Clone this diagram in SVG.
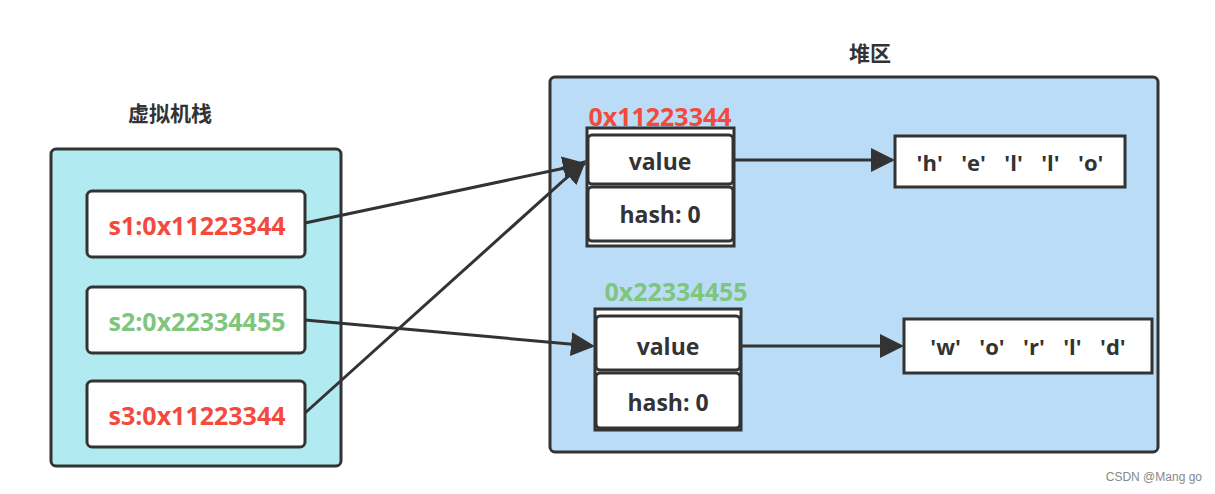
<svg xmlns="http://www.w3.org/2000/svg" width="1215" height="494" viewBox="0 0 1215 494">
<style>
.area{stroke:#333;stroke-width:3}
.box{fill:#fff;stroke:#333;stroke-width:3}
.t{font-family:"Open Sans","Noto Sans","Liberation Sans",sans-serif;font-weight:bold;text-anchor:middle;dominant-baseline:central}
.title{font-family:"Noto Sans CJK SC","Noto Sans",sans-serif;font-weight:bold;font-size:21px;fill:#333;text-anchor:middle;dominant-baseline:central}
.red{fill:#f4493d}
.green{fill:#7ec57e}
.dark{fill:#333}
.chars{word-spacing:3.5px}
.conn{stroke:#333;stroke-width:3;fill:none}
</style>
<defs>
<marker id="ah" markerWidth="8" markerHeight="8" refX="7" refY="4" orient="auto" markerUnits="strokeWidth">
<path d="M0,0 L8,4 L0,8 Z" fill="#333"/>
</marker>
</defs>
<rect width="1215" height="494" fill="#fff"/>
<g id="stack">
<text class="title" x="170" y="112">虚拟机栈</text>
<rect class="area" x="51" y="149" width="290" height="317" rx="5" fill="#b1eaf1"/>
</g>
<g id="s1">
<rect class="box" x="87" y="191" width="218" height="66" rx="5"/>
<text class="t red" x="197" y="225" font-size="25">s1:0x11223344</text>
</g>
<g id="s2">
<rect class="box" x="87" y="287" width="218" height="66" rx="5"/>
<text class="t green" x="197" y="321" font-size="25">s2:0x22334455</text>
</g>
<g id="s3">
<rect class="box" x="87" y="381" width="218" height="66" rx="5"/>
<text class="t red" x="197" y="415" font-size="25">s3:0x11223344</text>
</g>
<g id="heap">
<text class="title" x="870" y="52">堆区</text>
<rect class="area" x="550" y="77" width="608" height="375" rx="5" fill="#bbdcf7"/>
</g>
<g id="obj1">
<text class="t red" x="660" y="116" font-size="25">0x11223344</text>
<rect class="box" x="587" y="128" width="147" height="118"/>
<rect class="box" x="588" y="135" width="145" height="49" rx="4"/>
<text class="t dark" x="660" y="161" font-size="23">value</text>
<rect class="box" x="588" y="187" width="145" height="54" rx="4"/>
<text class="t dark" x="660" y="214" font-size="23">hash: 0</text>
</g>
<g id="obj2">
<text class="t green" x="676" y="291" font-size="25">0x22334455</text>
<rect class="box" x="595" y="309" width="146" height="121"/>
<rect class="box" x="596" y="316" width="144" height="54" rx="4"/>
<text class="t dark" x="668" y="346" font-size="23">value</text>
<rect class="box" x="596" y="373" width="144" height="55" rx="4"/>
<text class="t dark" x="668" y="402" font-size="23">hash: 0</text>
</g>
<g id="hello">
<rect class="box" x="895" y="136" width="230" height="51"/>
<text class="t dark chars" x="1010" y="162" font-size="22" xml:space="preserve">'h'  'e'  'l'  'l'  'o'</text>
</g>
<g id="world">
<rect class="box" x="904" y="319" width="248" height="54"/>
<text class="t dark chars" x="1028" y="346" font-size="22" xml:space="preserve">'w'  'o'  'r'  'l'  'd'</text>
</g>
<g id="connectors">
<line class="conn" x1="305" y1="223" x2="584" y2="164" marker-end="url(#ah)"/>
<line class="conn" x1="305" y1="413" x2="584" y2="162" marker-end="url(#ah)"/>
<line class="conn" x1="305" y1="320" x2="592" y2="346" marker-end="url(#ah)"/>
<line class="conn" x1="734" y1="160" x2="892" y2="160" marker-end="url(#ah)"/>
<line class="conn" x1="741" y1="346" x2="901" y2="346" marker-end="url(#ah)"/>
</g>
<text x="1202" y="481" font-family="Liberation Sans, sans-serif" font-size="12" fill="#888" text-anchor="end">CSDN @Mang go</text>
</svg>
